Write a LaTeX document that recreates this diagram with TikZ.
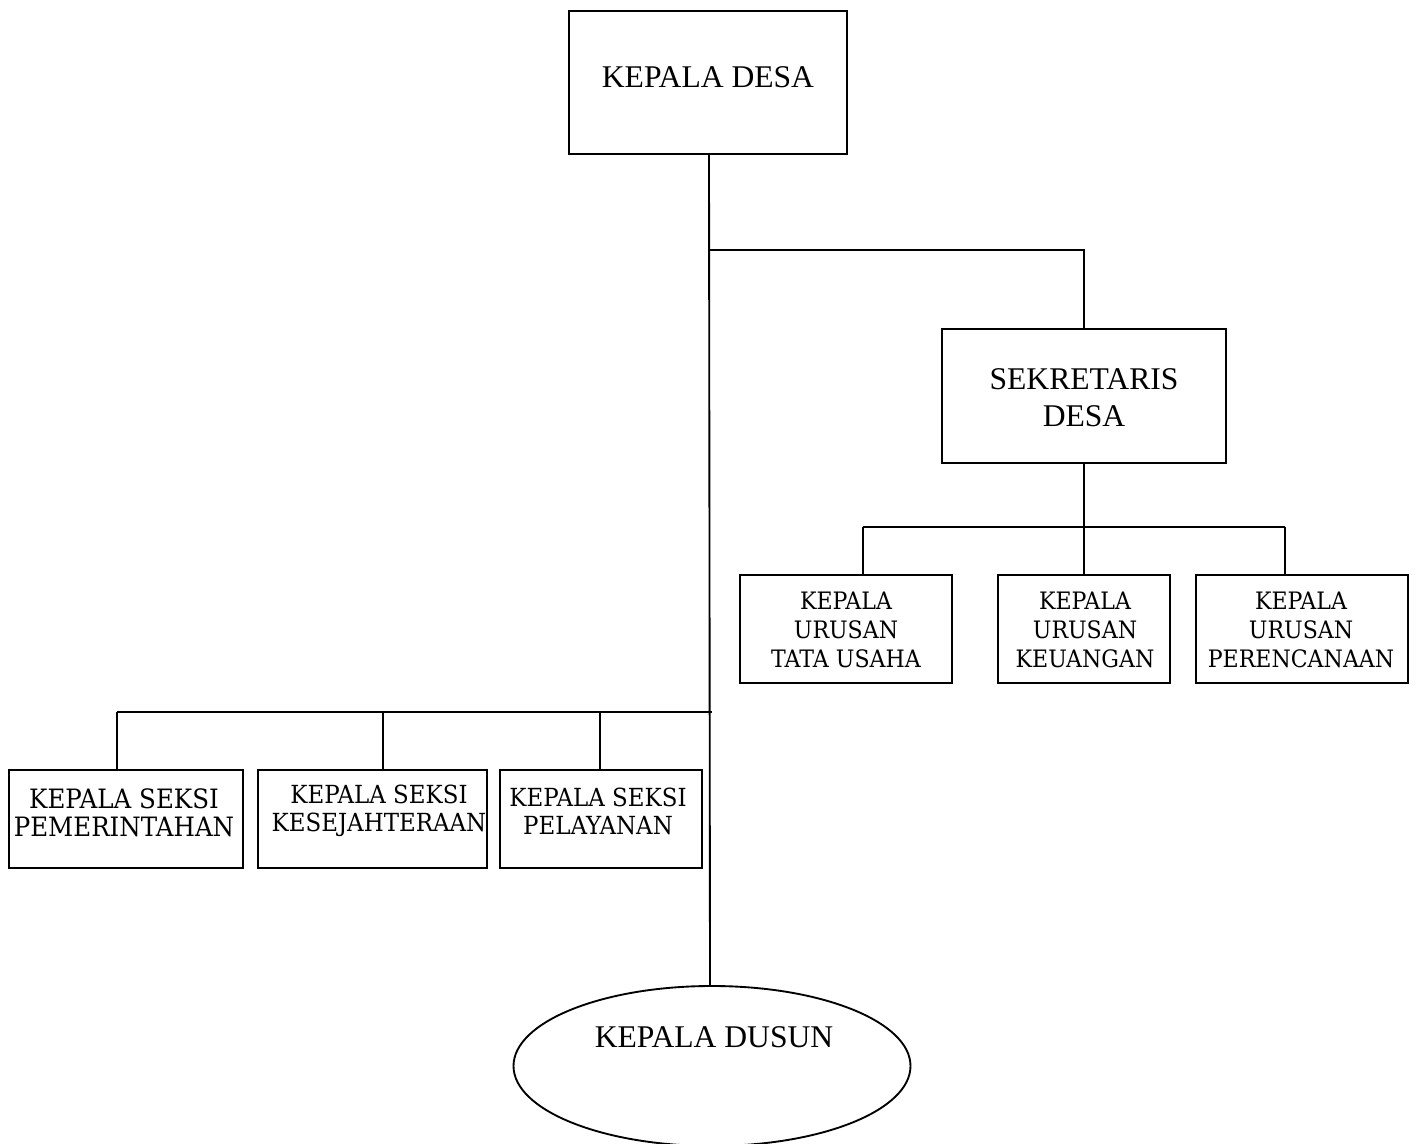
\documentclass[tikz,border=0pt]{standalone}
\usepackage{fontspec}
\setmainfont{Liberation Serif}
\newfontfamily\schfont[FakeStretch=0.92]{DejaVu Serif}
\usetikzlibrary{shapes.geometric}
\newdimen\px \px=0.75pt
\tikzset{
  every path/.style={line width=1.4pt},
  bigbox/.style={draw, line width=1.4pt, rectangle, inner sep=0pt},
  smallbox/.style={draw, line width=1.4pt, rectangle, inner sep=0pt},
  bigtext/.style={align=center, inner sep=0pt, font=\fontsize{23.7}{27.75}\selectfont},
  urtext/.style={align=center, inner sep=0pt, font=\schfont\fontsize{18}{22}\selectfont},
  sktext/.style={align=center, inner sep=0pt, font=\schfont\fontsize{18.7}{21}\selectfont},
  dusunshape/.style={draw, ellipse, line width=1.4pt, inner sep=0pt},
}
\begin{document}
\begin{tikzpicture}[x=0.75pt, y=-0.75pt]
\useasboundingbox[fill=white] (0,0) rectangle (1417,1144);
% top
\node[bigbox, minimum width=278\px, minimum height=143\px] (kades) at (708,82.5) {};
\node[bigtext] (kadest) at (708,77) {KEPALA DESA};
\node[bigbox, minimum width=284\px, minimum height=134\px] (sek) at (1084,396) {};
\node[bigtext] (sekt) at (1084,398) {SEKRETARIS\\DESA};
% urusan
\node[smallbox, minimum width=212\px, minimum height=108\px] (u1) at (846,629) {};
\node[urtext] (u1t) at (846,630) {KEPALA\\URUSAN\\TATA USAHA};
\node[smallbox, minimum width=172\px, minimum height=108\px] (u2) at (1084,629) {};
\node[urtext] (u2t) at (1085,630) {KEPALA\\URUSAN\\KEUANGAN};
\node[smallbox, minimum width=212\px, minimum height=108\px] (u3) at (1302,629) {};
\node[urtext] (u3t) at (1301,630) {KEPALA\\URUSAN\\PERENCANAAN};
% seksi
\node[smallbox, minimum width=234\px, minimum height=98\px] (s1) at (126,819) {};
\node[sktext, font=\schfont\fontsize{20}{21}\selectfont] (s1t) at (124,813) {KEPALA SEKSI\\PEMERINTAHAN};
\node[smallbox, minimum width=229\px, minimum height=98\px] (s2) at (372.5,819) {};
\node[sktext] (s2t) at (379,811) {KEPALA SEKSI\\KESEJAHTERAAN};
\node[smallbox, minimum width=202\px, minimum height=98\px] (s3) at (601,819) {};
\node[sktext] (s3t) at (598,811) {KEPALA SEKSI\\PELAYANAN};
% dusun
\node[dusunshape, minimum width=397\px, minimum height=160\px] (dusun) at (712,1066) {};
\node[bigtext] (dusunt) at (714,1037) {KEPALA DUSUN};
% junctions
\coordinate (j1) at (709,250);
\coordinate (j2) at (1084,527);
\coordinate (b1) at (863,527);
\coordinate (b3) at (1285,527);
\coordinate (j3) at (712,712);
\coordinate (c1) at (117,712);
\coordinate (c2) at (383,712);
\coordinate (c3) at (600,712);
% connectors
\draw (kades.south -| j1) -- (dusun.north -| 710,0);
\draw (j1) -| (sek.north);
\draw (sek.south) -- (j2);
\draw (b1) -- (b3);
\draw (b1) -- (b1 |- u1.north);
\draw (j2) -- (u2.north);
\draw (b3) -- (b3 |- u3.north);
\draw (c1) -- (j3);
\draw (c1) -- (c1 |- s1.north);
\draw (c2) -- (c2 |- s2.north);
\draw (c3) -- (c3 |- s3.north);
\end{tikzpicture}
\end{document}
